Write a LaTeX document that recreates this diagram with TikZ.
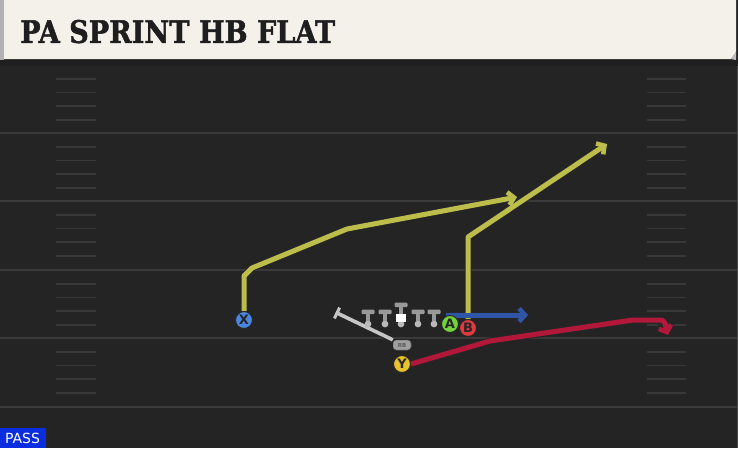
\documentclass[tikz,border=0pt]{standalone}
\usepackage{fontspec}
\usetikzlibrary{arrows.meta,calc}
\newfontfamily\titlefont{DejaVu Serif}[BoldFeatures={FakeBold=1.6}]
\newfontfamily\labfont{DejaVu Sans}
\definecolor{fieldbg}{HTML}{242424}
\definecolor{fieldline}{HTML}{3A3A3A}
\definecolor{hashc}{HTML}{383838}
\definecolor{headbg}{HTML}{F4F1EA}
\definecolor{titlec}{HTML}{1E1E1E}
\definecolor{olive}{HTML}{BDBD4C}
\definecolor{routeblue}{HTML}{2E55A8}
\definecolor{routered}{HTML}{B3173A}
\definecolor{xblue}{HTML}{4A86E0}
\definecolor{yyellow}{HTML}{E9C12B}
\definecolor{agreen}{HTML}{74D33C}
\definecolor{bred}{HTML}{E2393F}
\definecolor{rbgray}{HTML}{C6C6C6}
\definecolor{passblue}{HTML}{0B2DE0}
\tikzset{
  player/.style={circle,draw=black!85,line width=1pt,minimum size=17pt,inner sep=0pt,font=\labfont\bfseries\fontsize{13}{13}\selectfont,text=black!85},
  rbbox/.style={draw=black!80,fill=gray!75,rounded corners=3pt,minimum width=18pt,minimum height=10pt,inner sep=0pt,font=\labfont\bfseries\fontsize{5.5}{5.5}\selectfont,text=black!65},
  routeout/.style={line width=7pt,draw=black!85,line join=round},
  routein/.style={line width=5pt,line join=round},
  tipo/.style={-{Straight Barb[length=6.5pt,width=15pt,line width=7pt]}},
  tipi/.style={-{Straight Barb[length=5.8pt,width=13pt,line width=4.6pt]}},
  hash/.style={hashc,line width=1.8pt},
  yardline/.style={fieldline,line width=2pt},
}
\begin{document}
\begin{tikzpicture}[x=1pt,y=-1pt]
\useasboundingbox (0,0) rectangle (738,448);
% field
\fill[fieldbg] (0,0) rectangle (738,448);
\fill[black!88] (0,58) rectangle (738,66);
% yard lines
\foreach \yy in {133,201,270,338,407} {
  \draw[yardline] (0,\yy) -- (738,\yy);
}
% hash marks
\foreach \base in {65,133,201,270,338} {
  \foreach \off in {14,27.5,41,55} {
    \draw[hash] (56,\base+\off) -- (96,\base+\off);
    \draw[hash] (647,\base+\off) -- (686,\base+\off);
  }
}
\draw[black!70,line width=1pt] (737,66) -- (737,448);
% header
\fill[gray!60] (0,0) rectangle (4,60);
\fill[headbg] (4,0) -- (736,0) -- (736,52) -- (731,59) -- (4,59) -- cycle;
\fill[gray!50] (731,59) -- (736,52) -- (736,60) -- cycle;
\node[anchor=south west,inner sep=0pt,text=titlec] (title) at (20,43.5)
  {\resizebox{315pt}{23pt}{\titlefont\bfseries PA SPRINT HB FLAT}};
% players
\node[player,fill=xblue] (X) at (244,320) {X};
\node[player,fill=yyellow] (Y) at (402,364) {Y};
\node[player,fill=agreen] (A) at (450,324) {A};
\node[player,fill=bred] (B) at (468,328) {B};
\node[rbbox] (RB) at (402,345) {RB};
% coordinates
\coordinate (x1) at (244,276);
\coordinate (x2) at (252,268);
\coordinate (x3) at (347,229);
\coordinate (x4) at (517,197);
\coordinate (b1) at (468,237);
\coordinate (b2) at (607,144);
\coordinate (a0) at (446,315);
\coordinate (a1) at (528,315);
\coordinate (y1) at (490,341);
\coordinate (y2) at (633,320);
\coordinate (y3) at (660,320);
\coordinate (y4) at (668,335);
\coordinate (rbend) at (337,313);
% routes: outlines
\draw[routeout,tipo] (X.north) -- (x1) -- (x2) -- (x3) -- (x4);
\draw[routeout,tipo] (B.north) -- (b1) -- (b2);
\draw[routeout,tipo] (a0) -- (a1);
\draw[routeout,tipo] (Y.east) -- (y1) -- (y2) -- (y3) to[out=0,in=110] (y4);
\draw[routeout,line width=5.6pt] (RB.north west) -- (rbend);
\draw[black!85,line width=5pt] ($(rbend)!7pt!90:(RB.north west)$) -- ($(rbend)!7pt!-90:(RB.north west)$);
% routes: colour
\draw[routein,olive,tipi] (X.north) -- (x1) -- (x2) -- (x3) -- (x4);
\draw[routein,olive,tipi] (B.north) -- (b1) -- (b2);
\draw[routein,routeblue,tipi] (a0) -- (a1);
\draw[routein,routered,tipi] (Y.east) -- (y1) -- (y2) -- (y3) to[out=0,in=110] (y4);
\draw[routein,rbgray,line width=3.6pt] (RB.north west) -- (rbend);
\draw[rbgray,line width=3pt] ($(rbend)!6pt!90:(RB.north west)$) -- ($(rbend)!6pt!-90:(RB.north west)$);
% players on top
\node[player,fill=xblue] at (X) {X};
\node[player,fill=yyellow] at (Y) {Y};
\node[player,fill=agreen] at (A) {A};
\node[player,fill=bred] at (B) {B};
\node[rbbox] at (RB) {RB};
% linemen
\foreach \lx in {368,385,418,434} {
  \fill[gray!55] (\lx,324) circle (3.4pt);
  \fill[gray!80] (\lx-2,310) rectangle (\lx+2,321);
  \fill[gray!80,rounded corners=1pt] (\lx-6.5,309.5) rectangle (\lx+6.5,314);
}
\fill[gray!55] (401,324) circle (3.4pt);
\fill[gray!80] (399,303) rectangle (403,314);
\fill[gray!80,rounded corners=1pt] (394.5,302.5) rectangle (407.5,307);
\fill[white] (396,313.5) rectangle (406,322);
% PASS label
\fill[passblue] (0,428) rectangle (46,448);
\node[text=white,font=\labfont\fontsize{14}{14}\selectfont,inner sep=0pt] (pass) at (22.5,438.5) {PASS};
\end{tikzpicture}
\end{document}
